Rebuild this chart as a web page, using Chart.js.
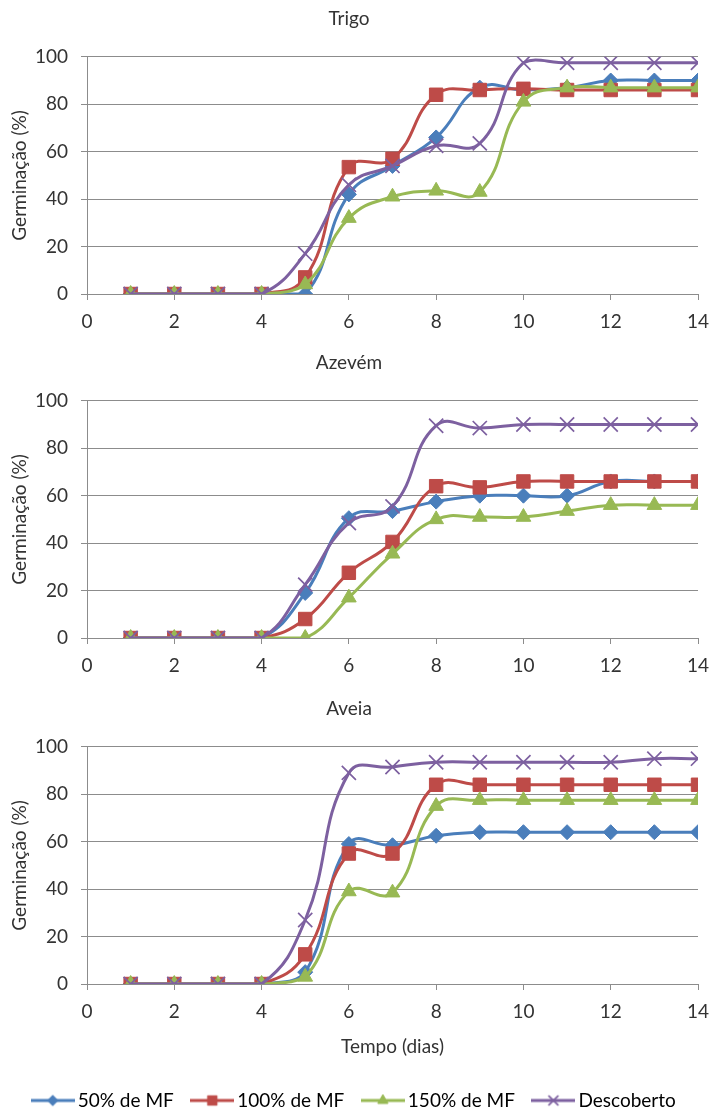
<!DOCTYPE html>
<html>
<head>
<meta charset="utf-8">
<script src="https://cdn.jsdelivr.net/npm/chart.js@4/dist/chart.umd.min.js"></script>
<style>
  html, body { margin: 0; padding: 0; background: #fff; overflow: hidden; width: 713px; height: 1110px; }
  canvas { position: absolute; left: 0; }
</style>
</head>
<body>
<canvas id="trigo" width="713" height="344" style="top:0px"></canvas>
<canvas id="azevem" width="713" height="344" style="top:344px"></canvas>
<canvas id="aveia" width="713" height="436" style="top:690px"></canvas>
<script>
// Dias de avaliação
const dias = [1, 2, 3, 4, 5, 6, 7, 8, 9, 10, 11, 12, 13, 14];
const xTicks = [0, 2, 4, 6, 8, 10, 12, 14];
const yTicks = [0, 20, 40, 60, 80, 100];
const seriesNames = ['50% de MF', '100% de MF', '150% de MF', 'Descoberto'];

// Germinação (%) — Trigo
const trigo50  = [0, 0, 0, 0, 0, 42, 54, 66, 87, 86, 87, 90, 90, 90];
const trigo100 = [0, 0, 0, 0, 7, 53.5, 57, 84, 86, 86.5, 86, 86, 86, 86];
const trigo150 = [0, 0, 0, 0, 4, 32, 41, 43.5, 43, 81, 87, 87, 87, 87];
const trigoDesc = [0, 0, 0, 0, 17, 46, 54, 62.5, 63.5, 97.5, 97.5, 97.5, 97.5, 97.5];

// Germinação (%) — Azevém
const azevem50  = [0, 0, 0, 0, 19, 50.5, 53.5, 57.5, 60, 60, 60, 66, 66, 66];
const azevem100 = [0, 0, 0, 0, 8, 27.5, 40.5, 64, 63.5, 66, 66, 66, 66, 66];
const azevem150 = [0, 0, 0, 0, 0, 17, 35.5, 50, 51, 51, 53.5, 56, 56, 56];
const azevemDesc = [0, 0, 0, 0, 22.5, 48.5, 55.5, 89.5, 88.5, 90, 90, 90, 90, 90];

// Germinação (%) — Aveia
const aveia50  = [0, 0, 0, 0, 5, 59, 58.5, 62.5, 64, 64, 64, 64, 64, 64];
const aveia100 = [0, 0, 0, 0, 12.5, 55, 55, 84, 84, 84, 84, 84, 84, 84];
const aveia150 = [0, 0, 0, 0, 3, 39, 38.5, 75, 77.5, 77.5, 77.5, 77.5, 77.5, 77.5];
const aveiaDesc = [0, 0, 0, 0, 27, 89, 91.5, 93.5, 93.5, 93.5, 93.5, 93.5, 95, 95];

const FONT = 'Lato, "DejaVu Sans", sans-serif';
const TEXT = '#333333';
const GRID = '#8c8c8c';

// Estilo de cada série: cor, marcador, raio
const styles = [
  { color: '#4A7EBB', point: 'rectRot', radius: 7.5, bw: 1 },
  { color: '#BE4B48', point: 'rect', radius: 9.5, bw: 1 },
  { color: '#98B954', point: 'triangle', radius: 8.5, bw: 1 },
  { color: '#7D60A0', point: 'crossRot', radius: 10, bw: 1.7 }
];

// Ícones da legenda: linha com o marcador ao centro
const legendIcons = styles.map(s => {
  const c = document.createElement('canvas');
  c.width = 44; c.height = 16;
  const ctx = c.getContext('2d');
  ctx.strokeStyle = s.color;
  ctx.lineWidth = 3;
  ctx.beginPath(); ctx.moveTo(0, 8); ctx.lineTo(44, 8); ctx.stroke();
  ctx.fillStyle = s.color;
  ctx.strokeStyle = s.color;
  ctx.lineWidth = s.bw;
  Chart.helpers.drawPoint(ctx, { pointStyle: s.point, radius: s.radius * 0.7, rotation: 0, borderWidth: s.bw }, 22, 8);
  return c;
});

// Centraliza a legenda na largura total da figura
const legendaCentrada = {
  id: 'legendaCentrada',
  beforeDraw(chart) {
    if (chart.legend && chart.legend.options.display) {
      chart.legend.left = 0;
      chart.legend.right = chart.width;
    }
  }
};

function makeDatasets(values) {
  return values.map((vals, i) => ({
    label: seriesNames[i],
    data: vals.map((v, k) => ({ x: dias[k], y: v })),
    borderColor: styles[i].color,
    backgroundColor: styles[i].color,
    pointBackgroundColor: styles[i].color,
    pointBorderColor: styles[i].color,
    pointStyle: styles[i].point,
    pointRadius: styles[i].radius,
    pointBorderWidth: styles[i].bw,
    borderWidth: 3,
    tension: 0.45,
    fill: false,
    order: 3 - i
  }));
}

function makeChart(id, titulo, values, withFooter) {
  const PAD_BOTTOM = withFooter ? 6 : 0;
  return new Chart(document.getElementById(id), {
    type: 'line',
    data: { datasets: makeDatasets(values) },
    plugins: [legendaCentrada],
    options: {
      responsive: false,
      animation: false,
      events: [],
      layout: { padding: { left: 0, right: 15, top: 0, bottom: PAD_BOTTOM } },
      plugins: {
        tooltip: { enabled: false },
        title: {
          display: true,
          text: titulo,
          color: TEXT,
          font: { family: FONT, size: 19, weight: 'normal', lineHeight: 1.2 },
          padding: { top: 7, bottom: 27 }
        },
        legend: {
          display: withFooter,
          position: 'bottom',
          labels: {
            usePointStyle: true,
            pointStyleWidth: 31,
            padding: 23,
            color: TEXT,
            font: { family: FONT, size: 19 },
            generateLabels: chart => chart.data.datasets.map((ds, i) => ({
              text: ds.label,
              pointStyle: legendIcons[i],
              fillStyle: ds.backgroundColor,
              strokeStyle: ds.borderColor,
              lineWidth: 0,
              hidden: false,
              datasetIndex: i
            }))
          }
        }
      },
      scales: {
        x: {
          type: 'linear',
          min: 0,
          max: 14,
          afterBuildTicks: s => { s.ticks = xTicks.map(v => ({ value: v })); },
          afterFit: s => {
            const lg = s.chart.legend;
            s.height = s.chart.height - PAD_BOTTOM - (lg ? lg.height : 0) - 294;
            s.paddingLeft = 0;
            s.paddingRight = 0;
          },
          grid: { drawOnChartArea: false, drawTicks: true, tickLength: 6, color: GRID },
          border: { color: GRID, width: 1 },
          ticks: { color: TEXT, font: { family: FONT, size: 19 }, padding: 10, maxRotation: 0 },
          title: {
            display: withFooter,
            text: 'Tempo (dias)',
            color: TEXT,
            font: { family: FONT, size: 19, lineHeight: 1.2 },
            padding: { top: 0, bottom: 10 }
          }
        },
        y: {
          min: 0,
          max: 100,
          afterBuildTicks: s => { s.ticks = yTicks.map(v => ({ value: v })); },
          afterFit: s => { s.width = 87; },
          grid: { color: GRID, lineWidth: 1, drawTicks: true, tickLength: 6 },
          border: { color: GRID, width: 1 },
          ticks: { color: TEXT, font: { family: FONT, size: 19 }, padding: 13 },
          title: {
            display: true,
            text: 'Germinação (%)',
            color: TEXT,
            font: { family: FONT, size: 19, lineHeight: 1.2 },
            padding: { top: 8, bottom: 0 }
          }
        }
      }
    }
  });
}

makeChart('trigo', 'Trigo', [trigo50, trigo100, trigo150, trigoDesc], false);
makeChart('azevem', 'Azevém', [azevem50, azevem100, azevem150, azevemDesc], false);
makeChart('aveia', 'Aveia', [aveia50, aveia100, aveia150, aveiaDesc], true);
</script>
</body>
</html>
